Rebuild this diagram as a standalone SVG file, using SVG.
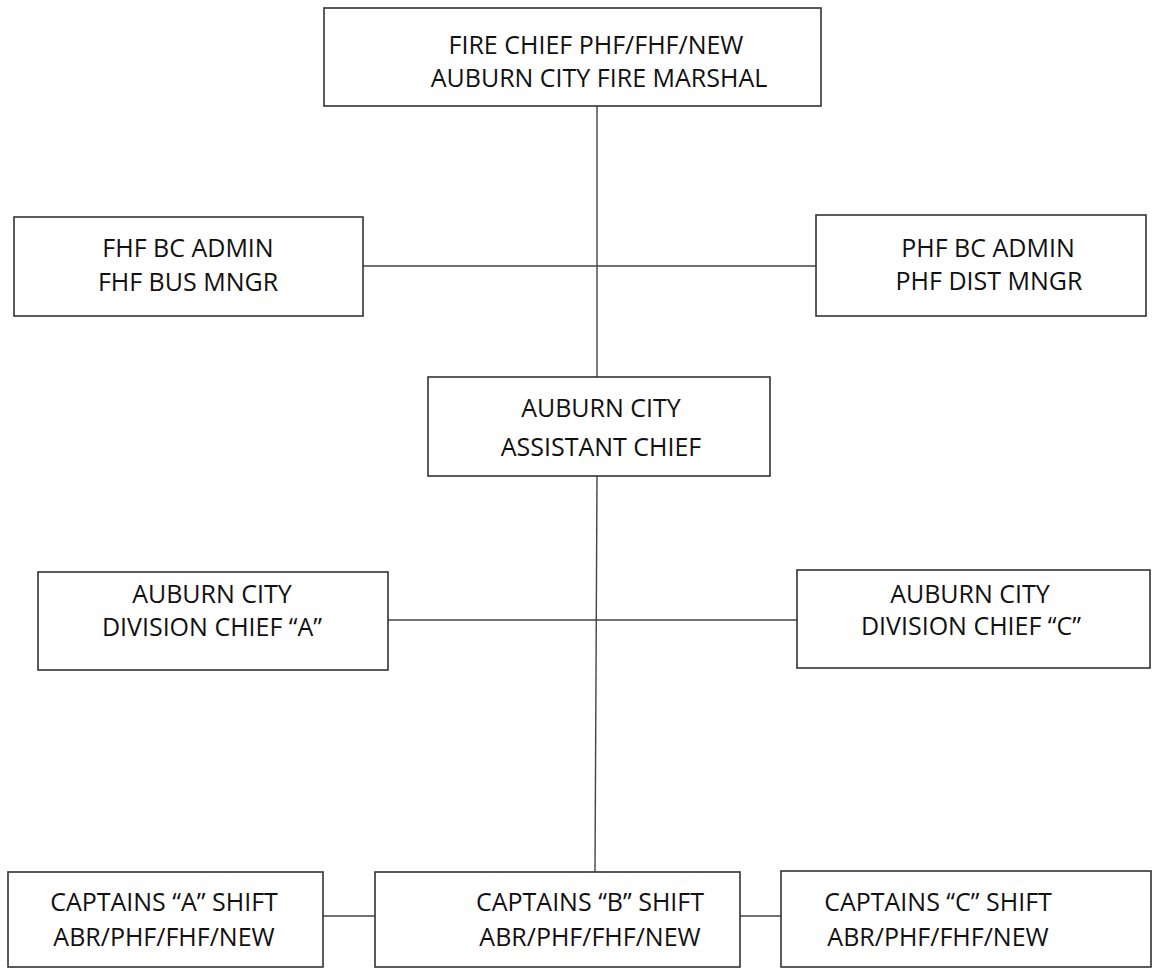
<svg xmlns="http://www.w3.org/2000/svg" width="1158" height="969" viewBox="0 0 1158 969">
<style>
.box{fill:#fff;stroke:#333;stroke-width:1.6}
.t{font-family:"Open Sans","Liberation Sans",sans-serif;font-size:25px;fill:#111;text-anchor:middle}
.c{stroke:#444;stroke-width:1.4;fill:none}
</style>
<rect width="1158" height="969" fill="#fff"/>
<g id="connectors">
<line class="c" x1="597" y1="106" x2="597" y2="377"/>
<line class="c" x1="363" y1="266" x2="816" y2="266"/>
<line class="c" x1="597" y1="476" x2="595" y2="872"/>
<line class="c" x1="388" y1="620" x2="797" y2="620"/>
<line class="c" x1="323" y1="916" x2="375" y2="916"/>
<line class="c" x1="740" y1="916" x2="781" y2="916"/>
</g>
<g id="fire-chief">
<rect class="box" x="324" y="8" width="497" height="98"/>
<text class="t" x="596" y="54">FIRE CHIEF PHF/FHF/NEW</text>
<text class="t" x="599" y="87">AUBURN CITY FIRE MARSHAL</text>
</g>
<g id="fhf-bc-admin">
<rect class="box" x="14" y="217" width="349" height="99"/>
<text class="t" x="188" y="257">FHF BC ADMIN</text>
<text class="t" x="188" y="291">FHF BUS MNGR</text>
</g>
<g id="phf-bc-admin">
<rect class="box" x="816" y="215" width="330" height="101"/>
<text class="t" x="988" y="257">PHF BC ADMIN</text>
<text class="t" x="989" y="290">PHF DIST MNGR</text>
</g>
<g id="assistant-chief">
<rect class="box" x="428" y="377" width="342" height="99"/>
<text class="t" x="601" y="417">AUBURN CITY</text>
<text class="t" x="601" y="456">ASSISTANT CHIEF</text>
</g>
<g id="division-chief-a">
<rect class="box" x="38" y="572" width="350" height="98"/>
<text class="t" x="212" y="603">AUBURN CITY</text>
<text class="t" x="212" y="636">DIVISION CHIEF “A”</text>
</g>
<g id="division-chief-c">
<rect class="box" x="797" y="570" width="353" height="98"/>
<text class="t" x="970" y="603">AUBURN CITY</text>
<text class="t" x="971" y="635">DIVISION CHIEF “C”</text>
</g>
<g id="captains-a">
<rect class="box" x="8" y="872" width="315" height="95"/>
<text class="t" x="164" y="911">CAPTAINS “A” SHIFT</text>
<text class="t" x="164" y="946">ABR/PHF/FHF/NEW</text>
</g>
<g id="captains-b">
<rect class="box" x="375" y="872" width="365" height="95"/>
<text class="t" x="590" y="911">CAPTAINS “B” SHIFT</text>
<text class="t" x="590" y="946">ABR/PHF/FHF/NEW</text>
</g>
<g id="captains-c">
<rect class="box" x="781" y="871" width="370" height="96"/>
<text class="t" x="938" y="911">CAPTAINS “C” SHIFT</text>
<text class="t" x="938" y="946">ABR/PHF/FHF/NEW</text>
</g>
</svg>
